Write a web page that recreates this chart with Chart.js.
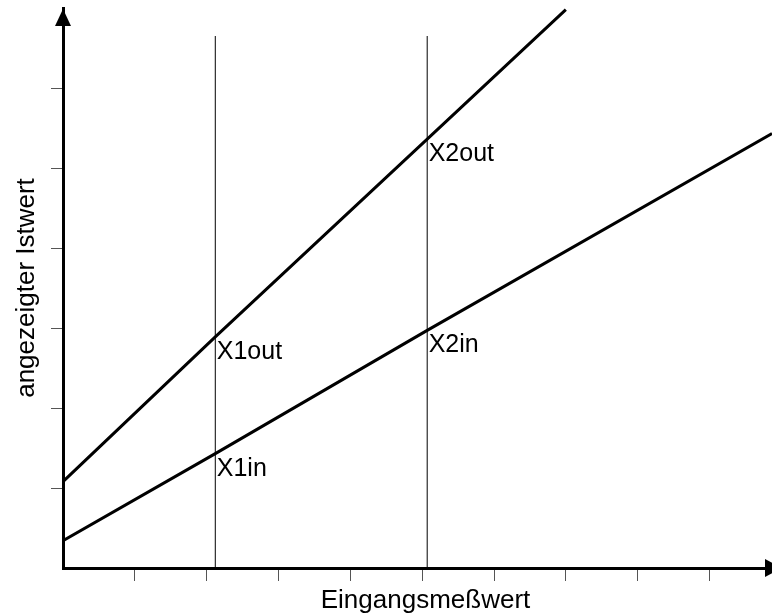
<!DOCTYPE html>
<html>
<head>
<meta charset="utf-8">
<script src="https://cdn.jsdelivr.net/npm/chart.js@4.4.0/dist/chart.umd.min.js"></script>
<style>
  html, body { margin: 0; padding: 0; background: #fff; }
  canvas { display: block; }
</style>
</head>
<body>
<canvas id="chart" width="772" height="616"></canvas>
<script>
// tick positions (no labels in the original)
const xTicks = [1, 2, 3, 4, 5, 6, 7, 8, 9];
const yTicks = [1, 2, 3, 4, 5, 6];

// input characteristic (lower line)
const inX = [0, 2.12, 5.07, 9.87];
const inY = [0.34, 1.43, 2.97, 5.43];
const inLabels = ['', 'X1in', 'X2in', ''];

// output characteristic (upper line)
const outX = [0, 2.12, 5.07, 7.0];
const outY = [1.08, 2.89, 5.36, 6.98];
const outLabels = ['', 'X1out', 'X2out', ''];

// the two measuring points
const markerX = [2.12, 5.07];
const markerTop = 6.65;

const xTitle = 'Eingangsmeßwert';
const yTitle = 'angezeigter Istwert';

const FONT = '"Liberation Sans", Arial, sans-serif';

const toPoints = (xs, ys) => xs.map((x, i) => ({ x: x, y: ys[i] }));

const lineStyle = {
    showLine: true,
    borderColor: '#000',
    borderWidth: 3,
    pointRadius: 0,
    pointHoverRadius: 0,
    fill: false
};

const datasets = [
    Object.assign({ data: toPoints(inX, inY), labels: inLabels }, lineStyle),
    Object.assign({ data: toPoints(outX, outY), labels: outLabels }, lineStyle)
];
markerX.forEach(function (x) {
    datasets.push(Object.assign({}, lineStyle, {
        data: [{ x: x, y: 0 }, { x: x, y: markerTop }],
        borderWidth: 1
    }));
});

const decorations = {
    id: 'decorations',
    afterDatasetsDraw(chart) {
        const ctx = chart.ctx;
        const area = chart.chartArea;
        const sx = chart.scales.x;
        const sy = chart.scales.y;
        ctx.save();
        ctx.fillStyle = '#000';

        // point labels next to the intersections
        ctx.font = '25px ' + FONT;
        ctx.textAlign = 'left';
        ctx.textBaseline = 'alphabetic';
        chart.data.datasets.forEach(function (ds, di) {
            if (!ds.labels) return;
            const meta = chart.getDatasetMeta(di);
            ds.labels.forEach(function (txt, i) {
                if (!txt) return;
                const p = meta.data[i];
                ctx.fillText(txt, p.x + 1.5, p.y + 22);
            });
        });

        // arrow heads
        const ox = sx.getPixelForValue(0);
        const oy = sy.getPixelForValue(0);
        ctx.beginPath();
        ctx.moveTo(ox, area.top + 1);
        ctx.lineTo(ox - 8, area.top + 18);
        ctx.lineTo(ox + 8, area.top + 18);
        ctx.closePath();
        ctx.fill();
        ctx.beginPath();
        ctx.moveTo(area.right + 10, oy);
        ctx.lineTo(area.right - 7, oy - 9);
        ctx.lineTo(area.right - 7, oy + 9);
        ctx.closePath();
        ctx.fill();

        // axis titles
        ctx.font = '26px ' + FONT;
        ctx.textAlign = 'center';
        ctx.fillText(xTitle, (area.left + area.right) / 2 + 8, 608);
        ctx.translate(34, (area.top + area.bottom) / 2);
        ctx.rotate(-Math.PI / 2);
        ctx.fillText(yTitle, 0, 0);
        ctx.restore();
    }
};

const axis = (values, tickLength, fitSize) => ({
    type: 'linear',
    afterBuildTicks: scale => { scale.ticks = values.map(v => ({ value: v })); },
    afterFit: scale => {
        if (scale.isHorizontal()) scale.height = fitSize; else scale.width = fitSize;
    },
    ticks: { display: false },
    grid: {
        drawOnChartArea: false,
        drawTicks: true,
        tickLength: tickLength,
        color: '#555',
        lineWidth: 1
    },
    border: { display: true, color: '#000', width: 3 }
});

const xAxis = Object.assign(axis(xTicks, 13, 48), { min: 0, max: 9.87 });
const yAxis = Object.assign(axis(yTicks, 12, 63), { min: 0, max: 7 });

new Chart(document.getElementById('chart'), {
    type: 'scatter',
    data: { datasets: datasets },
    options: {
        responsive: false,
        animation: false,
        layout: { padding: { top: 8, right: 0, bottom: 0, left: 0 } },
        scales: { x: xAxis, y: yAxis },
        plugins: {
            legend: { display: false },
            tooltip: { enabled: false }
        }
    },
    plugins: [decorations]
});
</script>
</body>
</html>
